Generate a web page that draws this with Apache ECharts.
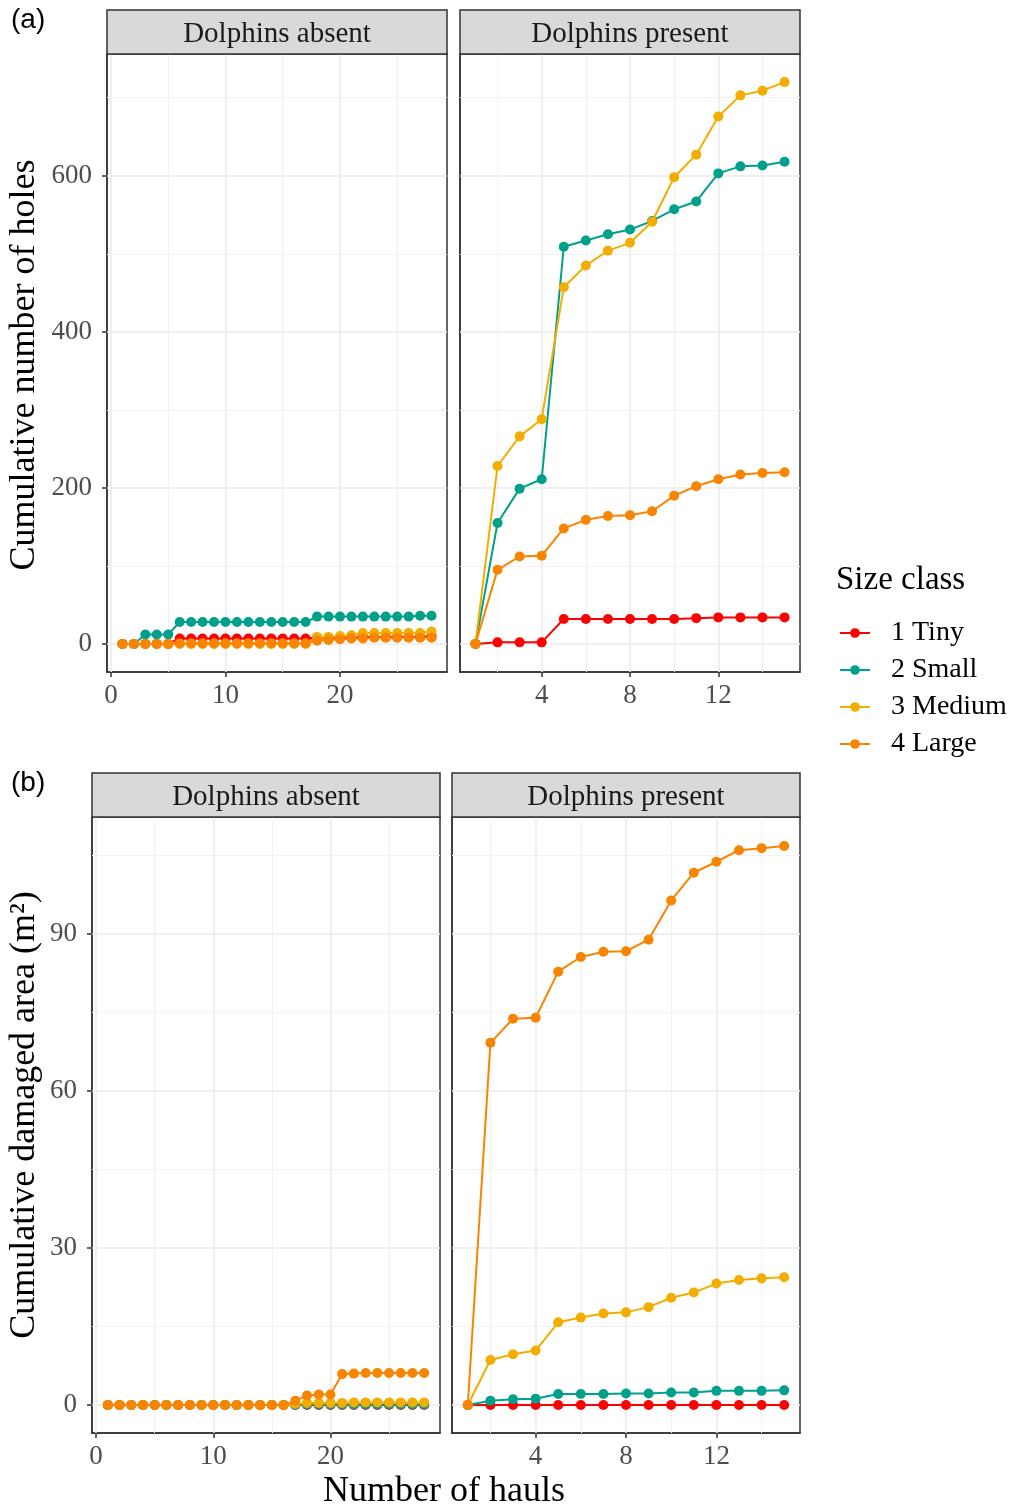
<!DOCTYPE html>
<html>
<head>
<meta charset="utf-8">
<script src="https://cdn.jsdelivr.net/npm/echarts@6/dist/echarts.min.js"></script>
<style>html,body{margin:0;padding:0;background:#fff}#c{width:1013px;height:1508px}</style>
</head>
<body>
<div id="c"></div>
<script>
// ---------------- data ----------------
const classNames = ['1 Tiny', '2 Small', '3 Medium', '4 Large'];
const classColors = ['#FF0000', '#00A08A', '#F2AD00', '#F98400'];
const facetNames = ['Dolphins absent', 'Dolphins present'];

const haulsAbsent = [1,2,3,4,5,6,7,8,9,10,11,12,13,14,15,16,17,18,19,20,21,22,23,24,25,26,27,28];
const haulsPresent = [1,2,3,4,5,6,7,8,9,10,11,12,13,14,15];

const holesAbsentTiny   = [0,0,0,0,0,7,7,7,7,7,7,7,7,7,7,7,7,8,8,8,8,9,9,9,9,9,9,10];
const holesAbsentSmall  = [0,0,12,12,12,28,28,28,28,28,28,28,28,28,28,28,28,35,35,35,35,35,35,35,35,35,36,36];
const holesAbsentMedium = [0,0,0,0,0,0,0,0,0,0,0,0,0,0,0,0,0,9,9,10,11,14,14,14,14,14,14,16];
const holesAbsentLarge  = [0,0,0,0,0,1,1,1,1,1,1,1,1,1,1,1,1,4,5,6,7,7,8,8,8,8,8,8];

const holesPresentTiny   = [0,2,2,2,32,32,32,32,32,32,33,34,34,34,34];
const holesPresentSmall  = [0,155,199,211,509,517,525,531,542,557,567,603,612,613,618];
const holesPresentMedium = [0,228,266,288,457,485,504,514,541,598,627,676,703,709,720];
const holesPresentLarge  = [0,95,112,113,148,159,164,165,170,190,202,211,217,219,220];

const areaAbsentTiny   = [0,0,0,0,0,0,0,0,0,0,0,0,0,0,0,0,0,0,0,0,0,0,0,0,0,0,0,0];
const areaAbsentSmall  = [0,0,0,0,0,0,0,0,0,0,0,0,0,0,0,0,0,0.1,0.1,0.1,0.1,0.1,0.1,0.1,0.1,0.1,0.1,0.1];
const areaAbsentMedium = [0,0,0,0,0,0,0,0,0,0,0,0,0,0,0,0,0.2,0.4,0.4,0.4,0.4,0.5,0.5,0.5,0.5,0.5,0.5,0.5];
const areaAbsentLarge  = [0,0,0,0,0,0,0,0,0,0,0,0,0,0,0,0,0.8,1.8,2.0,2.0,5.9,6.0,6.1,6.1,6.1,6.1,6.1,6.1];

const areaPresentTiny   = [0,0,0,0,0,0,0,0,0,0,0,0,0,0,0];
const areaPresentSmall  = [0,0.8,1.1,1.2,2.1,2.1,2.1,2.2,2.2,2.4,2.4,2.7,2.7,2.7,2.8];
const areaPresentMedium = [0,8.6,9.7,10.4,15.8,16.7,17.5,17.7,18.7,20.5,21.5,23.2,23.9,24.2,24.4];
const areaPresentLarge  = [0,69.2,73.8,74.0,82.8,85.6,86.6,86.7,88.9,96.4,101.7,103.8,106.0,106.4,106.8];

// tick labels / gridlines
const xTicksAbsent = [0,10,20];
const xMinorAbsent = [5,15,25];
const xTicksPresent = [4,8,12];
const xMinorPresent = [2,6,10,14];
const yTicksHoles = [0,200,400,600];
const yMinorHoles = [100,300,500,700];
const yTicksArea = [0,30,60,90];
const yMinorArea = [15,45,75,105];

// axis ranges (ggplot-like 5% expansion)
const xRangeAbsent = [-0.35, 29.35];
const xRangePresent = [0.3, 15.7];
const yRangeHoles = [-36, 756];
const yRangeArea = [-5.35, 112.35];

// ---------------- layout ----------------
const SERIF = 'Liberation Serif';
const grids = [
  {left:107, top:54,  width:340, height:618},
  {left:460, top:54,  width:340, height:618},
  {left:92,  top:817, width:348, height:616},
  {left:452, top:817, width:348, height:616}
];
const panels = [
  {x: haulsAbsent,  xr: xRangeAbsent,  xt: xTicksAbsent,  xm: xMinorAbsent,  yr: yRangeHoles, yt: yTicksHoles, ym: yMinorHoles,
   vals: [holesAbsentTiny, holesAbsentSmall, holesAbsentMedium, holesAbsentLarge], showY: true, facet: 0},
  {x: haulsPresent, xr: xRangePresent, xt: xTicksPresent, xm: xMinorPresent, yr: yRangeHoles, yt: yTicksHoles, ym: yMinorHoles,
   vals: [holesPresentTiny, holesPresentSmall, holesPresentMedium, holesPresentLarge], showY: false, facet: 1},
  {x: haulsAbsent,  xr: xRangeAbsent,  xt: xTicksAbsent,  xm: xMinorAbsent,  yr: yRangeArea, yt: yTicksArea, ym: yMinorArea,
   vals: [areaAbsentTiny, areaAbsentSmall, areaAbsentMedium, areaAbsentLarge], showY: true, facet: 0},
  {x: haulsPresent, xr: xRangePresent, xt: xTicksPresent, xm: xMinorPresent, yr: yRangeArea, yt: yTicksArea, ym: yMinorArea,
   vals: [areaPresentTiny, areaPresentSmall, areaPresentMedium, areaPresentLarge], showY: false, facet: 1}
];

const labelStyle = {color:'#4D4D4D', fontSize:27, fontFamily:SERIF};
const xAxes = [], yAxes = [], series = [], graphics = [];

panels.forEach((p, i) => {
  xAxes.push({
    type:'value', gridIndex:i, min:p.xr[0], max:p.xr[1], position:'bottom',
    axisLine:{show:true, onZero:false, lineStyle:{color:'#333333', width:1.5}}, splitLine:{show:false},
    axisTick:{show:true, length:5, customValues:p.xt, lineStyle:{color:'#333333', width:1.5}},
    axisLabel:Object.assign({show:true, margin:10, customValues:p.xt}, labelStyle)
  });
  yAxes.push({
    type:'value', gridIndex:i, min:p.yr[0], max:p.yr[1], position:'left',
    axisLine:{show:true, onZero:false, lineStyle:{color:'#333333', width:1.5}}, splitLine:{show:false},
    axisTick:{show:p.showY, length:5, customValues:p.yt, lineStyle:{color:'#333333', width:1.5}},
    axisLabel:Object.assign({show:p.showY, margin:15, customValues:p.yt}, labelStyle)
  });
  // gridlines as a background series of mark lines
  const ml = [];
  p.xm.forEach(v => ml.push({xAxis:v, lineStyle:{color:'#F2F2F2', width:1}}));
  p.ym.forEach(v => ml.push({yAxis:v, lineStyle:{color:'#F2F2F2', width:1}}));
  p.xt.forEach(v => ml.push({xAxis:v, lineStyle:{color:'#EBEBEB', width:1.6}}));
  p.yt.forEach(v => ml.push({yAxis:v, lineStyle:{color:'#EBEBEB', width:1.6}}));
  series.push({
    type:'line', xAxisIndex:i, yAxisIndex:i, data:[], silent:true, z:1,
    markLine:{silent:true, z:1, symbol:['none','none'], label:{show:false}, animation:false,
      lineStyle:{type:'solid'}, emphasis:{disabled:true}, data:ml}
  });
  p.vals.forEach((vals, k) => {
    series.push({
      type:'line', name:classNames[k], xAxisIndex:i, yAxisIndex:i, z:3 + k,
      data: p.x.map((xv, j) => [xv, vals[j]]),
      symbol:'circle', symbolSize:10, showSymbol:true,
      lineStyle:{color:classColors[k], width:2},
      itemStyle:{color:classColors[k]},
      emphasis:{disabled:true}
    });
  });
  // facet strip
  const g = grids[i];
  graphics.push({
    type:'rect', shape:{x:g.left, y:g.top - 44, width:g.width, height:44},
    style:{fill:'#D9D9D9', stroke:'#333333', lineWidth:1.5}, z:10
  });
  graphics.push({
    type:'text', x:g.left + g.width/2, y:g.top - 20,
    style:{text:facetNames[p.facet], font:'29px "Liberation Serif"', fill:'#1A1A1A', align:'center', verticalAlign:'middle'}, z:11
  });
});

graphics.push({type:'text', x:11, y:20, style:{text:'(a)', font:'28px "Liberation Sans"', fill:'#000', verticalAlign:'middle'}});
graphics.push({type:'text', x:11, y:783, style:{text:'(b)', font:'28px "Liberation Sans"', fill:'#000', verticalAlign:'middle'}});
graphics.push({type:'text', x:25, y:365, rotation:Math.PI/2,
  style:{text:'Cumulative number of holes', font:'36px "Liberation Serif"', fill:'#000', align:'center', verticalAlign:'middle'}});
graphics.push({type:'text', x:25, y:1115, rotation:Math.PI/2,
  style:{text:'Cumulative damaged area (m²)', font:'36px "Liberation Serif"', fill:'#000', align:'center', verticalAlign:'middle'}});
graphics.push({type:'text', x:444, y:1492,
  style:{text:'Number of hauls', font:'36px "Liberation Serif"', fill:'#000', align:'center', verticalAlign:'middle'}});
graphics.push({type:'text', x:836, y:580,
  style:{text:'Size class', font:'33px "Liberation Serif"', fill:'#000', align:'left', verticalAlign:'middle'}});

const option = {
  animation:false,
  backgroundColor:'#fff',
  grid: grids.map(g => Object.assign({show:true, borderColor:'#333333', borderWidth:1.5, backgroundColor:'#fff', containLabel:false}, g)),
  xAxis: xAxes,
  yAxis: yAxes,
  legend: {
    data: classNames, orient:'vertical', left:834, top:614,
    itemWidth:30, itemHeight:12, itemGap:9,
    textStyle:{fontFamily:SERIF, fontSize:28, color:'#000', padding:[0,0,0,16], lineHeight:28},
    selectedMode:false
  },
  graphic: graphics,
  series: series
};
const chart = echarts.init(document.getElementById('c'), null, {renderer:'canvas'});
chart.setOption(option);
</script>
</body>
</html>
